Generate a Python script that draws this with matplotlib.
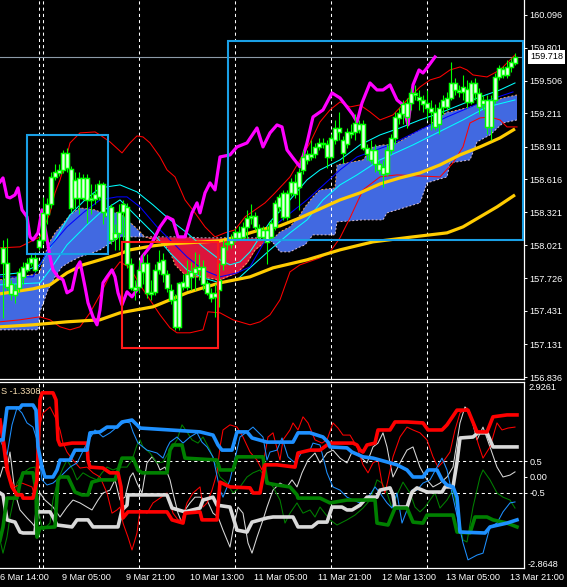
import matplotlib
matplotlib.use("Agg")
import matplotlib.pyplot as plt
from matplotlib.patches import Rectangle
from matplotlib.transforms import blended_transform_factory as btf
import numpy as np

plt.rcParams['font.family'] = ['Liberation Sans', 'DejaVu Sans']

# ---------------- price candles (H1 bars, index 0..128) ----------------
open_ = [158.00,157.86,157.67,157.57,157.64,157.74,157.80,157.86,157.80,158.01,
         158.07,158.30,158.39,158.64,158.67,158.70,158.85,158.71,158.45,158.45,
         158.63,158.63,158.43,158.44,158.46,158.57,158.32,158.37,158.09,158.13,
         158.32,158.37,157.85,157.65,157.65,157.78,157.86,157.58,157.60,157.80,
         157.89,157.76,157.62,157.53,157.29,157.65,157.65,157.74,157.77,157.80,
         157.83,157.68,157.59,157.56,157.62,157.85,158.03,158.03,158.09,158.09,
         158.10,158.19,158.27,158.29,158.18,158.10,158.16,158.10,158.19,158.37,
         158.49,158.28,158.49,158.48,158.55,158.70,158.79,158.82,158.84,158.91,
         158.94,158.93,158.82,158.97,159.08,158.97,158.93,159.02,159.04,159.11,
         159.11,158.90,158.88,158.88,158.75,158.66,158.67,158.88,158.99,159.17,
         159.20,159.18,159.30,159.39,159.36,159.33,159.30,159.26,159.22,159.11,
         159.27,159.27,159.35,159.48,159.42,159.40,159.43,159.31,159.48,159.39,
         159.29,159.33,159.09,159.33,159.54,159.61,159.56,159.63,159.66]
close = [157.86,157.65,157.58,157.62,157.78,157.83,157.86,157.91,157.91,158.07,
         158.31,158.39,158.64,158.68,158.70,158.85,158.72,158.36,158.61,158.63,
         158.45,158.43,158.45,158.48,158.57,158.32,158.29,158.07,158.13,158.32,
         158.39,157.85,157.64,157.62,157.80,157.86,157.59,157.60,157.80,157.87,
         157.76,157.64,157.53,157.29,157.68,157.69,157.76,157.78,157.82,157.83,
         157.67,157.59,157.55,157.59,157.71,158.01,158.04,158.07,158.14,158.14,
         158.19,158.27,158.29,158.19,158.10,158.16,158.05,158.22,158.40,158.46,
         158.28,158.49,158.59,158.59,158.68,158.82,158.84,158.84,158.91,158.94,
         158.93,158.82,158.99,159.08,159.04,158.85,159.04,159.04,159.12,159.06,
         158.90,158.84,158.79,158.75,158.70,158.73,158.88,158.99,159.18,159.21,
         159.29,159.30,159.39,159.38,159.33,159.29,159.26,159.22,159.09,159.26,
         159.33,159.35,159.48,159.42,159.40,159.45,159.31,159.48,159.39,159.27,
         159.33,159.09,159.33,159.54,159.62,159.56,159.63,159.67,159.718]
high = [158.07,158.09,157.71,157.67,157.82,157.87,157.91,157.94,157.96,158.11,
        158.46,158.45,158.68,158.75,158.75,158.88,158.90,158.74,158.68,158.68,
        158.66,158.66,158.57,158.57,158.61,158.59,158.39,158.39,158.21,158.39,
        158.43,158.40,157.91,157.71,157.89,157.94,157.94,157.71,157.85,157.98,
        157.95,157.80,157.67,157.58,157.69,157.76,157.89,157.87,157.96,157.94,
        157.89,157.71,157.64,157.67,157.86,158.07,158.12,158.12,158.18,158.20,
        158.23,158.34,158.39,158.32,158.21,158.20,158.20,158.25,158.43,158.48,
        158.52,158.52,158.63,158.66,158.72,158.88,158.88,158.97,158.94,158.99,
        158.99,158.97,159.02,159.15,159.22,159.01,159.08,159.11,159.20,159.15,
        159.15,158.93,158.97,158.93,158.79,158.79,158.93,159.02,159.22,159.26,
        159.33,159.35,159.44,159.47,159.42,159.38,159.42,159.33,159.29,159.31,
        159.38,159.40,159.67,159.53,159.47,159.56,159.51,159.51,159.53,159.44,
        159.38,159.38,159.38,159.57,159.65,159.64,159.69,159.71,159.75]
low = [157.37,157.62,157.53,157.50,157.60,157.67,157.78,157.84,157.78,157.98,
       158.03,158.21,158.36,158.61,158.65,158.67,158.68,158.32,158.36,158.30,
       158.43,158.22,158.30,158.39,158.43,158.21,158.16,158.03,157.98,157.98,
       158.07,157.82,157.62,157.53,157.59,157.67,157.55,157.53,157.57,157.76,
       157.69,157.60,157.49,157.26,157.26,157.62,157.62,157.62,157.62,157.71,
       157.62,157.57,157.51,157.38,157.47,157.80,157.98,158.00,158.05,158.07,
       158.07,158.07,158.21,158.16,158.07,158.07,157.85,158.07,158.16,158.32,
       158.25,158.25,158.47,158.45,158.34,158.66,158.75,158.79,158.81,158.88,
       158.90,158.72,158.79,158.93,158.97,158.76,158.90,158.99,158.97,159.03,
       158.88,158.79,158.76,158.68,158.66,158.55,158.65,158.84,158.93,159.11,
       159.11,159.08,159.24,159.33,159.24,159.22,159.15,159.06,159.06,159.02,
       159.20,159.24,159.33,159.38,159.36,159.33,159.26,159.29,159.33,159.20,
       159.24,159.02,158.97,159.30,159.51,159.53,159.53,159.58,159.65]

# ---------------- cloud (two spans) ----------------
cloud_x = [-0.75,8.75,9.25,11.25,13,14.75,16.75,19.25,23,24.25,29.25,33,35.5,38,40,41.75,43,46,
           49.25,54.25,56,58.5,61,63,65.5,66.75,68,69.25,71.75,74.25,75.5,77.5,79.25,83,83.5,
           90,92.5,95,96,98.5,104.25,106,111,111.75,116.75,118.5,121.75,125,128.5]
span_a = [157.711,157.765,157.783,158.026,158.134,158.206,158.296,158.359,158.341,158.323,
          158.314,158.188,158.098,158.071,158.044,157.963,157.846,157.738,157.738,157.711,
          157.738,157.774,157.864,157.981,158.053,158.080,158.098,158.143,158.188,158.296,
          158.368,158.458,158.521,158.539,158.746,158.791,158.908,158.926,158.926,158.944,
          159.061,159.088,159.223,159.223,159.268,159.286,159.313,159.349,159.376]
span_b = [157.261,157.261,157.423,157.621,157.738,157.828,157.873,157.918,157.963,157.981,
          158.098,158.098,158.098,158.098,158.098,158.098,158.098,158.098,158.089,158.089,
          158.089,158.089,158.089,158.089,158.080,158.071,158.026,157.963,157.963,158.008,
          158.026,158.116,158.116,158.116,158.233,158.251,158.251,158.251,158.314,158.341,
          158.404,158.584,158.638,158.764,158.791,158.953,159.016,159.124,159.151]

# ---------------- moving averages / bands ----------------
ma_fast_x = [-0.75,7.5,11.75,16,20,24.25,28.5,31.75,37.5,41.75,46,50,54.25,57.5,61.75,64.25,69.25,
             74.25,79.25,84.25,89.25,94.25,99.25,104.25,109.25,114.25,119.25,124.25,128]
ma_fast = [157.585,157.630,157.666,157.774,157.846,157.891,157.936,157.981,158.017,158.035,
           158.044,158.053,158.062,158.089,158.134,158.161,158.197,158.269,158.350,158.431,
           158.494,158.575,158.629,158.674,158.746,158.836,158.908,158.989,159.070]
ma_slow_x = [-0.75,7.5,16,24.25,29.25,37.5,46,50,54.25,61.75,67.5,76,84.25,92.5,102.5,111,115,
             119.25,123.5,128]
ma_slow = [157.288,157.306,157.333,157.351,157.414,157.468,157.594,157.639,157.684,157.738,
           157.819,157.891,157.981,158.053,158.098,158.134,158.188,158.278,158.368,158.476]
bb_up_x = [-0.75,4.25,9.25,11.75,13,14.25,15.5,16.75,19.25,23,24.25,26.75,29.75,31.75,33.5,35,
           36.75,39.25,41,43,45.5,48,50.5,53,55.5,58,60.5,63,65.5,68,71.75,74.25,76.75,79.25,
           81.75,84.25,86.75,89.25,91.75,94.25,97.5,101.75,104.25,106.75,109.25,111.75,114.25,
           116,117.5,121,124.25,126.75,128]
bb_up = [157.999,158.008,158.098,158.314,158.494,158.611,158.764,158.944,159.034,159.043,
         159.016,158.953,158.854,158.944,159.007,158.998,158.944,158.818,158.701,158.638,
         158.431,158.314,158.188,158.098,158.134,158.161,158.278,158.341,158.404,158.494,
         158.638,158.791,158.944,159.133,159.241,159.313,159.268,159.286,159.223,159.151,
         159.196,159.358,159.448,159.511,159.538,159.601,159.628,159.601,159.556,159.538,
         159.601,159.691,159.736]
bb_lo_x = [-0.75,4.25,9.25,11.75,14.25,16.75,19.25,21.75,24.25,26.75,29.25,31.75,34.25,36.75,
           39.25,41.75,43.5,46.75,50,51.25,54.25,57.5,61.75,64.25,66.75,69.25,71.75,74.25,79.25,
           81.75,84.25,86.75,90,94.25,98.5,109.25,112.5,115,116.75,119.25,121.75,124.25,126,128.5]
bb_lo = [157.333,157.351,157.378,157.351,157.288,157.261,157.288,157.414,157.576,157.756,
         157.873,157.819,157.666,157.531,157.396,157.279,157.234,157.234,157.261,157.423,
         157.414,157.351,157.306,157.333,157.396,157.531,157.783,157.846,157.909,157.963,
         158.089,158.269,158.521,158.638,158.656,158.638,158.764,158.908,159.124,159.169,
         159.178,159.151,159.088,159.088]
cyan1_x = [-0.75,4.25,9.25,13,16.75,20.5,24.25,29.25,33.5,37.5,41.75,46,50,54.25,56.75,59.25,
           61.75,66.75,71.75,76,79.25,84.25,89.25,94.25,99.25,104.25,109.25,114.25,119.25,124.25,128]
cyan1 = [157.756,157.774,157.846,158.071,158.296,158.431,158.539,158.566,158.503,158.386,
         158.251,158.134,158.008,157.891,157.846,157.873,157.963,158.233,158.431,158.611,
         158.701,158.791,158.926,159.016,159.079,159.151,159.214,159.286,159.358,159.421,159.484]
cyan2_x = [-0.75,9.25,11.75,16,21,24.25,29.25,33.5,37.5,41.75,46,50,54.25,58.5,61.75,66.75,
           71.75,76,80,84.25,88.5,94.25,102.5,108.5,115,121,128]
cyan2 = [157.666,157.684,157.801,158.026,158.206,158.314,158.431,158.278,158.134,157.954,
         157.801,157.729,157.684,157.711,157.819,157.981,158.134,158.251,158.431,158.566,
         158.656,158.791,158.926,159.034,159.151,159.268,159.331]
blue_x = [-0.75,7.5,11.75,16,20,24.25,28.5,31,34.25,38.5,42.5,46,50,54.25,58.5,61.75,67.5,76,
          84.25,88.5,96.75,104.25,111,119.25,127.5]
blue_line = [157.738,157.738,158.008,158.188,158.314,158.431,158.458,158.458,158.368,158.188,
             158.044,157.918,157.801,157.738,157.774,157.828,158.188,158.431,158.701,158.818,
             158.926,159.061,159.178,159.304,159.403]
lag_x = [-0.75,0,1,1.75,3,3.75,4.75,6,6.75,7.5,8.75,9.75,10.5,11.75,12.5,13.75,15,16,17.25,18.5,
         19.25,20.5,21.25,22.5,23.5,24.25,25,26,27.25,28,28.75,29.75,31,32.25,33.5,34.75,36.75,
         39.25,41,42.5,43.75,45.5,47.25,48.5,49.25,50.5,51.75,53,54.25,56.75,58.5,61,63.5,65,
         66.75,68.5,69.75,71,72.5,74.25,76,77.5,80,82.25,84.25,86,87.5,88.5,89.75,91.75,93.5,
         95,96.75,98.5,100,101.25,102.5,104,105,106,108]
lag_line = [158.593,158.629,158.458,158.449,158.476,158.539,158.341,158.278,158.098,158.071,
            158.134,158.341,158.179,157.918,157.801,157.738,157.711,157.594,157.621,157.828,
            157.873,157.648,157.504,157.378,157.306,157.441,157.684,157.738,157.801,157.738,
            157.594,157.486,157.603,157.558,157.621,157.918,158.008,158.188,158.278,158.251,
            158.098,158.098,158.314,158.404,158.314,158.494,158.584,158.521,158.818,158.836,
            158.908,158.944,159.079,158.908,159.034,159.106,159.088,158.881,158.809,158.728,
            158.944,159.178,159.241,159.394,159.349,159.268,159.196,159.133,159.304,159.484,
            159.421,159.421,159.466,159.331,159.286,159.106,159.466,159.601,159.574,159.619,
            159.718]

price_ticks = [160.096,159.801,159.506,159.211,158.911,158.616,158.321,158.021,157.726,
               157.431,157.131,156.836]
last_price = 159.718
separators = [9, 10, 34, 58, 82, 106]
time_pos = [-0.5, 15, 31, 47, 63, 79, 95, 111, 127]
time_labels = ["6 Mar 14:00", "9 Mar 05:00", "9 Mar 21:00", "10 Mar 13:00", "11 Mar 05:00",
               "11 Mar 21:00", "12 Mar 13:00", "13 Mar 05:00", "13 Mar 21:00"]

# ---------------- lower indicator window ----------------
thick_blue_x = [-0.75,0,1,4.25,4.75,7.5,8.25,8.75,9.75,10.5,12.5,13.5,14.25,16.75,18,21,21.75,
                24.25,26,28.5,29.75,32.25,33.5,34.25,41.75,49.25,52.5,53.75,54.75,57.25,58.5,61,
                62.25,66,72.5,73.75,76.75,78.5,80,81.25,81.75,86,87.25,90,92.5,96,98.5,101,102.5,
                105,106.25,108.5,109.75,111,112.5,113.5,114.25,120.5,121.75,126,128.5]
thick_blue = [1.16,1.16,2.16,2.16,2.25,2.25,2.09,0.94,0.31,0.00,
              0.00,0.22,0.53,0.53,0.84,0.84,1.38,1.41,1.56,1.56,
              1.72,1.78,1.63,1.53,1.47,1.41,1.31,1.00,0.84,0.84,
              1.41,1.41,1.22,1.09,1.09,1.38,1.38,1.31,1.25,1.09,
              0.94,0.91,0.78,0.63,0.59,0.47,0.38,0.22,0.00,0.00,
              0.22,0.22,-0.09,-0.25,-0.31,-0.63,-1.72,-1.75,-1.56,-1.44,-1.34]
thick_red_x = [-0.75,0,1,2.25,3.5,4.75,5,7.5,8.5,9.25,9.75,12.5,13.25,13.75,14.25,
               17.25,21,21.25,21.75,25,26.75,28.75,29.5,30,31.25,41,42.25,45,45.5,49.25,
               49.75,53.5,54.25,56.75,61.75,62.5,64.25,65,65.5,68.5,73,73.75,76.75,79.25,81,
               81.75,87.5,88.5,89.25,90,91,93,93.75,96.75,98,101,105,106.25,109.75,111,
               113.5,116.25,118.5,121,122.5,126,128.5]
thick_red = [1.78,1.16,0.22,-0.31,-0.56,-0.56,-0.66,-0.66,-0.09,2.41,
             2.63,2.63,2.41,1.16,1.00,1.06,1.06,0.53,0.31,0.28,
             0.13,0.13,-0.31,-1.28,-1.09,-1.09,-1.34,-1.44,-1.13,-1.09,
             -1.34,-1.34,-0.16,-0.31,-0.34,-0.50,-0.50,0.00,0.38,0.38,
             0.31,0.75,0.84,0.84,1.00,1.06,1.06,1.00,0.84,0.78,
             1.00,1.06,1.47,1.47,1.72,1.72,1.69,1.47,1.47,1.63,
             2.09,2.09,1.41,1.41,1.88,1.94,1.94]
thick_green_x = [-0.75,0,1,3.5,4.25,5,7.5,8.25,8.5,9.25,13,13.75,14.25,16.25,18,
                 19.75,21.25,22.25,24.25,28,29.75,32.5,33.75,34.75,41,41.75,42.5,44.75,45.5,53.5,
                 54.25,57.5,58.5,65,66,68.5,71.75,73.5,73.75,79.25,81.75,86,93,93.5,96.25,
                 98,101,102.5,105,106,112.5,113.5,116.75,118,121,122.5,126,128.5]
thick_green = [-1.97,-1.56,-0.66,-0.66,-0.19,0.13,0.13,-0.41,-1.88,-1.59,
               -1.56,-0.09,0.00,0.00,-0.47,-0.56,-0.56,-0.16,-0.09,-0.09,
               0.59,0.59,0.22,0.13,0.13,0.84,1.00,1.00,0.59,0.53,
               0.22,0.22,0.63,0.63,-0.19,-0.25,-0.31,-0.56,-0.66,-0.66,
               -0.81,-0.72,-0.72,-1.44,-1.50,-0.97,-0.97,-1.41,-1.44,-1.19,
               -1.19,-1.72,-1.75,-1.25,-1.25,-1.34,-1.44,-1.56]
thick_white_x = [-0.75,0,1,3,4.25,5,8,8.5,11.75,12.5,13.5,17.25,18.5,21.25,22.5,
                 28.75,29.75,31,31.25,41,42.25,45.5,49.25,50,52.5,53.5,56.75,57.5,58.5,61,
                 62.25,66,67.5,72.5,73.75,77.25,78.75,81,82.25,84.75,86,87.25,89.25,91,93.5,
                 94.25,96.75,97.5,98,101,102.25,103.5,106,109.75,110.5,112.5,113.5,114.25,117.5,
                 118.75,121,122.5,128.5]
thick_white = [-0.50,-0.56,-1.34,-1.41,-1.72,-1.75,-1.75,-1.09,-1.09,-1.25,
               -1.50,-1.56,-1.34,-1.34,-1.56,-1.56,-1.03,-0.88,-0.56,-0.56,
               -0.97,-1.09,-0.97,-0.72,-0.63,-0.88,-0.94,-1.25,-1.66,-1.72,
               -1.41,-1.28,-1.25,-1.25,-1.56,-1.56,-1.41,-1.41,-0.94,-0.94,
               -1.03,-1.03,-0.88,-0.63,-0.63,-0.41,-0.34,-0.56,-0.94,-0.94,
               -0.47,-0.34,-0.47,-0.47,-0.31,-0.31,0.47,1.22,1.25,1.38,
               1.38,0.94,0.94]
thin_blue_x = [-0.75,1,2.25,3.5,4.75,6,7.5,8.5,9.75,11,12.5,14.25,16.75,18.5,21,
               23,25,26.75,28.5,30.5,31.75,32.5,33.75,36,38.5,40,41,41.75,43.5,45,
               46.75,48.5,49.75,51,52.5,54.25,55,56.75,59.25,61,62.5,65,66,66.75,68.5,
               69.75,71.25,73,74.75,76.75,77.5,79.25,81,82.5,84.25,86,87.5,89.25,91.75,93,
               94.25,96,97.25,98.5,99.75,101,102.25,103.5,105,106.75,108.5,109.75,111,112.25,
               113.75,115,116.25,118.5,120,121.75,123.5,125,126.75,128]
thin_blue = [1.16,0.69,1.63,2.16,2.00,1.69,1.56,1.16,-0.09,-0.25,
             -0.19,0.00,0.31,0.44,1.06,1.47,1.25,1.38,1.56,1.72,
             1.69,1.41,1.06,0.84,0.75,0.59,0.91,1.09,1.25,1.06,
             1.25,1.38,1.09,0.94,0.63,-0.41,-0.63,-0.09,1.25,1.41,
             1.56,1.25,0.53,0.78,0.84,1.22,0.63,0.44,0.78,0.84,
             1.06,1.00,0.13,-0.31,-0.41,-0.63,-0.72,-0.81,-0.56,-0.31,
             -0.50,-0.81,-0.97,-0.50,-1.44,-1.03,-0.41,-0.41,-0.19,-0.09,
             0.31,0.59,0.22,-0.50,-1.34,-2.06,-2.59,-2.44,-2.38,-1.56,
             -1.44,-1.09,-0.81,-0.78]
thin_red_x = [-0.75,0,1,1.75,3,4.75,6,7.25,8,8.75,10,11.75,13,14.25,15,
              16,17.5,19.25,21,22.5,24.25,26,27.25,28.5,29.25,30,31.25,32.25,33.5,34.25,
              36,37.5,39.25,41,42.5,43.75,44.75,46,47.5,49.25,50,51,52.25,53.5,54.25,
              55,56.75,58.5,60,61.75,63.5,64.75,66.25,67.5,69.25,70,71.75,72.5,73.75,75,
              76.25,78,79.75,81,82.5,83.75,85,86.75,88.5,90,91.25,92.5,93.75,94.75,95.5,
              96.25,97.5,99.25,101,102.5,104.25,106,107.5,108.75,110,111.75,113,114.25,116,117.5,
              118.75,120,121.75,123.5,124.75,126.25,128]
thin_red = [1.78,1.47,0.63,-0.09,-0.31,-0.19,-0.25,-0.31,-0.63,1.38,
            2.00,2.19,1.88,1.47,1.06,0.78,0.53,0.28,0.31,0.13,
            0.00,-0.50,-1.13,-1.03,-0.94,-1.44,-1.88,-2.28,-1.75,-1.03,
            -1.13,-0.81,-0.66,-0.50,-1.13,-1.34,-1.34,-0.81,-0.50,-0.31,
            -0.94,-0.81,-0.41,0.13,0.94,1.47,1.63,1.56,1.25,0.78,
            0.53,0.22,1.25,1.38,0.53,1.16,1.47,1.69,1.47,1.88,
            1.69,1.16,1.06,1.16,1.69,1.53,1.31,1.31,0.94,0.38,
            0.13,0.44,0.53,-0.19,-0.50,-0.09,0.63,1.25,1.56,1.47,
            1.38,1.16,0.63,0.31,0.47,0.78,1.47,2.00,2.16,1.69,
            1.06,0.59,0.94,1.69,1.47,1.53,1.56]
thin_green_x = [-0.75,0,1,1.75,3.5,5,6.75,8,8.5,9.25,10,11.75,12.5,13.75,15,
                16,17.5,18.5,20,21.75,23.5,24.75,26,27.5,29.25,31,32.25,33.5,34.25,35,
                36.75,38.5,40,41.75,43.5,44.75,46,47.25,48.75,50,51.75,53,54.25,56,57.5,
                59.25,61,62.5,64.25,66,67.5,69.25,70.5,71.75,73.5,75,76.75,78,79.25,81.75,
                83.5,86,88,90,91.75,93.5,94.75,96,97.25,98.5,100,101.75,103,104.25,105.5,
                106.75,108,109.25,111,112.5,113.75,115,116,117.5,119.25,120,121.75,123.5,125,126.75,
                128]
thin_green = [-1.97,-2.38,-1.88,-1.25,-0.19,0.13,0.28,0.31,-0.31,-1.34,
              -1.66,-1.44,-0.72,-0.09,0.28,0.53,0.22,-0.09,0.13,0.00,
              -0.09,0.13,0.31,0.22,0.31,0.31,0.53,1.00,1.16,0.94,
              0.75,0.44,0.47,0.84,1.16,1.63,1.41,1.16,1.06,1.25,
              0.84,0.44,0.00,-0.19,-0.50,-0.31,0.00,0.13,0.22,-0.09,
              -0.31,-0.72,-1.44,-1.13,-0.81,-1.13,-1.03,-1.25,-0.94,-1.34,
              -1.50,-1.34,-1.19,-0.97,-0.72,-0.09,-0.19,-0.50,-0.97,-0.56,
              -0.16,-0.50,-0.94,-1.09,-0.94,-0.72,-0.50,-0.97,-0.72,-0.41,
              -1.13,-1.97,-2.03,-0.94,0.00,0.22,-0.09,-0.50,-0.63,-0.72,
              -0.97]
thin_white_x = [-0.75,0,1,1.75,3,4.25,6,7.25,8,8.5,9.25,10.5,12.5,14.25,16,
                17.5,19.25,21,22.25,23.75,25,26.75,28,29.25,30.5,31.75,32.5,33.5,34.75,36,
                37.25,38.5,39.25,40.5,41.75,42.5,43.75,44.75,45.5,46.75,48,49.25,51,52.5,53.75,
                55,56.75,57.5,58.75,60,61.25,62.25,63.5,65,66,67.5,69.25,71,72.25,73.5,
                74.75,76.25,78,79.25,81,82.5,84.25,86,87.25,88.75,91,92.5,93.75,95,96,
                96.75,97.5,99.25,101,102.5,104.25,106,107.5,109.25,111,112.5,114.25,115.5,116.75,118.5,
                120,121.75,123.5,125,126.75,128]
thin_white = [0.00,0.31,0.28,0.78,-0.50,-1.03,-1.28,-1.44,-1.56,-1.34,
              -0.50,-0.72,-0.94,-1.25,-0.94,-0.72,-0.81,-0.94,-1.03,-0.72,
              -0.50,-0.41,-0.09,-0.72,-0.63,0.00,0.13,-0.19,-0.50,0.44,
              0.63,0.44,0.22,0.31,-0.09,-0.50,-1.13,-1.44,-1.03,-0.81,
              -0.63,-0.63,-0.72,-1.13,-1.25,-1.66,-2.19,-1.66,-0.94,-1.13,
              -2.06,-2.38,-1.88,-1.34,-0.94,-0.41,-0.19,-0.31,-0.09,-0.31,
              0.13,0.53,0.75,0.44,0.75,0.84,0.59,0.44,0.78,0.69,
              0.44,0.94,1.06,1.38,0.94,0.44,0.00,0.44,0.84,0.94,
              0.31,-0.09,-0.31,-0.19,0.00,0.31,1.69,2.19,2.00,1.16,
              1.56,0.94,0.31,0.00,0.06,0.16]
sub_ticks = [0.5, 0.0, -0.5]
sub_tick_labels = ["0.5", "0.00", "-0.5"]
sub_max, sub_min = 2.9261, -2.8648
sub_title = "S -1.3308"

# ---------------- figure ----------------
FW, FH = 567, 587
PW = 524
fig = plt.figure(figsize=(FW / 100, FH / 100), dpi=100, facecolor='black')
ax = fig.add_axes([0, (FH - 379) / FH, PW / FW, 379 / FH], facecolor='black')
ax2 = fig.add_axes([0, (FH - 568) / FH, PW / FW, 186 / FH], facecolor='black')

XL = (-0.75, 130.25)
for a in (ax, ax2):
    a.set_xlim(*XL)
    a.set_xticks([])
    for s in a.spines.values():
        s.set_color('white')
        s.set_linewidth(0.9)
    a.spines['left'].set_visible(False)
    a.yaxis.tick_right()
    a.tick_params(axis='y', colors='white', length=2.5, width=0.7, pad=1.5, labelsize=6.6)
ax.spines['top'].set_visible(False)
ax.set_ylim(156.818, 160.231)
ax2.set_ylim(-2.844, 2.969)

# cloud
cx = np.array(cloud_x)
sa = np.array(span_a)
sb = np.array(span_b)
ax.fill_between(cx, sa, sb, where=sa >= sb, interpolate=True, color='#4169e1', lw=0, zorder=1)
ax.fill_between(cx, sa, sb, where=sa < sb, interpolate=True, color='#dc143c', lw=0, zorder=1)
ax.plot(cx, sa, color='#f4a460', lw=0.7, ls=(0, (2, 2)), zorder=1.1)
ax.plot(cx, sb, color='#d8bfd8', lw=0.7, ls=(0, (2, 2)), zorder=1.1)

# separators
for s in separators:
    for a in (ax, ax2):
        a.axvline(s, color='white', lw=0.75, ls=(0, (3, 3)), zorder=1.3)

# price line
ax.axhline(last_price, color='#8c9aa8', lw=0.8, zorder=1.4)

# lines
ax.plot(bb_up_x, bb_up, color='#ff0000', lw=0.75, zorder=2)
ax.plot(bb_lo_x, bb_lo, color='#ff0000', lw=0.75, zorder=2)
ax.plot(cyan1_x, cyan1, color='#00ffff', lw=0.75, zorder=2)
ax.plot(cyan2_x, cyan2, color='#00ffff', lw=0.75, zorder=2)
ax.plot(blue_x, blue_line, color='#0000ff', lw=0.75, zorder=2)
ax.plot(ma_slow_x, ma_slow, color='#ffcc00', lw=2.3, zorder=2.2, solid_capstyle='butt')
ax.plot(ma_fast_x, ma_fast, color='#ffcc00', lw=2.3, zorder=2.2, solid_capstyle='butt')
ax.plot(lag_x, lag_line, color='#ff00ff', lw=2.3, zorder=2.4)

# candles
idx = np.arange(len(close))
o = np.array(open_); c = np.array(close); h = np.array(high); l = np.array(low)
ax.vlines(idx, l, h, color='#00ff00', lw=0.8, zorder=3)
bot = np.minimum(o, c)
hgt = np.maximum(np.abs(c - o), 0.004)
ax.bar(idx, hgt, bottom=bot, width=0.8, color='#e6ffe6', edgecolor='#00ff00',
       linewidth=1.05, zorder=3.1)

# rectangles
ax.add_patch(Rectangle((6, 157.944), 20.25, 159.015 - 157.944, fill=False,
                       ec='#1aa0e6', lw=1.5, zorder=6))
ax.add_patch(Rectangle((56.25, 158.070), 73.85, 159.862 - 158.070, fill=False,
                       ec='#1aa0e6', lw=1.5, zorder=6))
ax.add_patch(Rectangle((29.75, 157.097), 24.0, 158.052 - 157.097, fill=False,
                       ec='#ff1a1a', lw=1.5, zorder=6))

# right price scale
ax.set_yticks(price_ticks)
ax.set_yticklabels([f"{p:.3f}" for p in price_ticks])
ax.text(1.0 + 6 / PW, last_price, f"{last_price:.3f}", transform=btf(ax.transAxes, ax.transData),
        ha='left', va='center', fontsize=6.6, color='black', zorder=10, clip_on=False,
        bbox=dict(boxstyle='square,pad=0.25', fc='white', ec='none'))

# lower window
for yv in (0.5, -0.5):
    ax2.axhline(yv, color='white', lw=0.75, ls=(0, (3, 3)), zorder=1)
ax2.plot(thin_white_x, thin_white, color='#d9d9d9', lw=0.75, zorder=2)
ax2.plot(thin_green_x, thin_green, color='#008000', lw=0.75, zorder=2)
ax2.plot(thin_red_x, thin_red, color='#ff0000', lw=0.75, zorder=2)
ax2.plot(thin_blue_x, thin_blue, color='#1e90ff', lw=0.75, zorder=2)
ax2.plot(thick_white_x, thick_white, color='#d9d9d9', lw=2.6, zorder=3)
ax2.plot(thick_green_x, thick_green, color='#008000', lw=2.6, zorder=3)
ax2.plot(thick_red_x, thick_red, color='#ff0000', lw=2.6, zorder=3)
ax2.plot(thick_blue_x, thick_blue, color='#1e90ff', lw=2.6, zorder=3)
ax2.set_yticks(sub_ticks)
ax2.set_yticklabels(sub_tick_labels)
bt = btf(ax2.transAxes, ax2.transData)
ax2.text(1.0 + 4 / PW, sub_max, f"{sub_max:.4f}", transform=bt, ha='left', va='top',
         fontsize=6.6, color='white', clip_on=False)
ax2.text(1.0 + 4 / PW, sub_min, f"{sub_min:.4f}", transform=bt, ha='left', va='bottom',
         fontsize=6.6, color='white', clip_on=False)
fig.text(1 / FW, 1 - 392 / FH, sub_title, ha='left', va='center', fontsize=6.6,
         color='#f5dcb0')

# time labels
tt = btf(ax2.transData, fig.transFigure)
for p, lab in zip(time_pos, time_labels):
    ax2.text(p - 0.25, 1 - 578 / FH, lab, transform=tt, ha='left', va='center',
             fontsize=6.6, color='white', clip_on=False)

fig.savefig('out.png', dpi=100, facecolor='black')
